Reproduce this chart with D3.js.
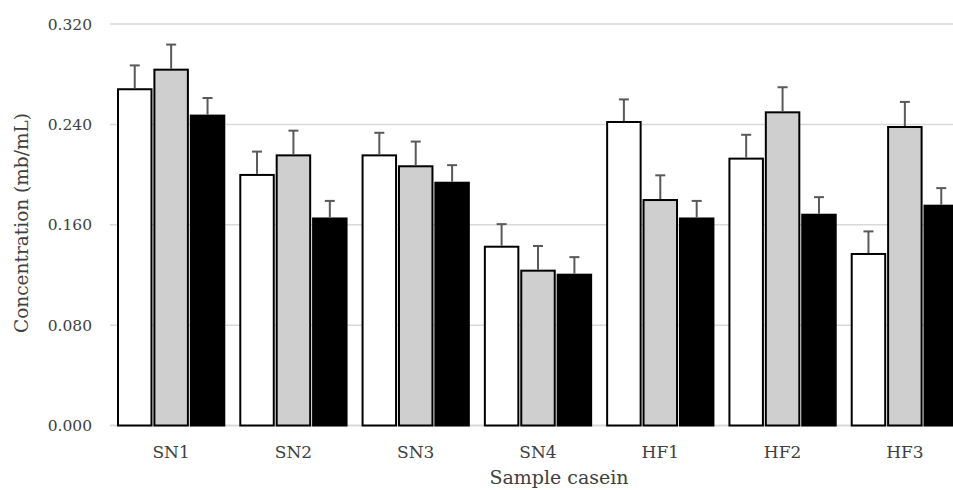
<!DOCTYPE html>
<html>
<head>
<meta charset="utf-8">
<script src="https://cdn.jsdelivr.net/npm/d3@7"></script>
<style>
  body { margin: 0; background: #fff; }
  text { font-family: "DejaVu Serif", serif; fill: #404040; }
</style>
</head>
<body>
<div id="chart"></div>
<script>
// sample groups
var categories = ["SN1", "SN2", "SN3", "SN4", "HF1", "HF2", "HF3"];
var seriesNames = ["white", "gray", "black"];
var whiteVals = [0.268, 0.1997, 0.2153, 0.1425, 0.2419, 0.2127, 0.1367];
var grayVals = [0.2836, 0.2153, 0.2066, 0.1234, 0.1797, 0.2496, 0.2379];
var blackVals = [0.247, 0.165, 0.1935, 0.1202, 0.165, 0.168, 0.1752];
var whiteErr = [0.019, 0.0186, 0.018, 0.018, 0.018, 0.019, 0.018];
var grayErr = [0.020, 0.0197, 0.0197, 0.0197, 0.0197, 0.020, 0.020];
var blackErr = [0.014, 0.014, 0.014, 0.014, 0.014, 0.014, 0.014];
var yTicks = [0, 0.08, 0.16, 0.24, 0.32];

var width = 953, height = 490;
var svg = d3.select("#chart").append("svg")
    .attr("width", width)
    .attr("height", height);

var fills = {white: "#ffffff", gray: "#d0cfd0", black: "#000000"};
var vals = {white: whiteVals, gray: grayVals, black: blackVals};
var errs = {white: whiteErr, gray: grayErr, black: blackErr};

var x = d3.scaleBand().domain(categories).range([110, 966]).padding(0);
var x1 = d3.scaleBand().domain(seriesNames)
    .range([8, x.bandwidth() - 8])
    .paddingInner(0.08).paddingOuter(0);
var y = d3.scaleLinear().domain([0, 0.32]).range([425.5, 24]);

// gridlines
svg.append("g").selectAll("line")
    .data(yTicks)
    .enter().append("line")
    .attr("x1", 110).attr("x2", width)
    .attr("y1", function(d){ return y(d); })
    .attr("y2", function(d){ return y(d); })
    .attr("stroke", "#d9d9d9")
    .attr("stroke-width", function(d){ return d == 0 ? 2 : 1.5; });

// y tick labels
svg.append("g").selectAll("text")
    .data(yTicks)
    .enter().append("text")
    .attr("x", 92)
    .attr("y", function(d){ return y(d); })
    .attr("dy", "0.36em")
    .attr("text-anchor", "end")
    .style("font-size", "15.5px")
    .text(function(d){ return d3.format(".3f")(d); });

// bars
var rows = [];
categories.forEach(function(c, i){
    seriesNames.forEach(function(s){
        rows.push({cat: c, s: s, v: vals[s][i], e: errs[s][i]});
    });
});

var g = svg.append("g");
g.selectAll("rect")
    .data(rows)
    .enter().append("rect")
    .attr("x", function(d){ return x(d.cat) + x1(d.s); })
    .attr("y", function(d){ return y(d.v); })
    .attr("width", x1.bandwidth())
    .attr("height", function(d){ return y(0) - y(d.v); })
    .attr("fill", function(d){ return fills[d.s]; })
    .attr("stroke", "#000")
    .attr("stroke-width", 2);

// error bars (upper only)
var eb = svg.append("g").attr("stroke", "#595959").attr("stroke-width", 2);
eb.selectAll("line.v")
    .data(rows)
    .enter().append("line")
    .attr("class", "v")
    .attr("x1", function(d){ return x(d.cat) + x1(d.s) + x1.bandwidth() / 2; })
    .attr("x2", function(d){ return x(d.cat) + x1(d.s) + x1.bandwidth() / 2; })
    .attr("y1", function(d){ return y(d.v) - 1; })
    .attr("y2", function(d){ return y(d.v + d.e); });
eb.selectAll("line.cap")
    .data(rows)
    .enter().append("line")
    .attr("class", "cap")
    .attr("x1", function(d){ return x(d.cat) + x1(d.s) + x1.bandwidth() / 2 - 5; })
    .attr("x2", function(d){ return x(d.cat) + x1(d.s) + x1.bandwidth() / 2 + 5; })
    .attr("y1", function(d){ return y(d.v + d.e); })
    .attr("y2", function(d){ return y(d.v + d.e); });

// category labels
svg.append("g").selectAll("text")
    .data(categories)
    .enter().append("text")
    .attr("x", function(d){ return x(d) + 8 + (x.bandwidth() - 16) / 2; })
    .attr("y", 458)
    .attr("text-anchor", "middle")
    .style("font-size", "17px")
    .text(function(d){ return d; });

// axis titles
svg.append("text")
    .attr("x", 559)
    .attr("y", 484)
    .attr("text-anchor", "middle")
    .style("font-size", "19px")
    .text("Sample casein");

svg.append("text")
    .attr("transform", "translate(" + 28 + "," + 223 + ") rotate(-90)")
    .attr("text-anchor", "middle")
    .style("font-size", "18.5px")
    .text("Concentration (mb/mL)");
</script>
</body>
</html>
